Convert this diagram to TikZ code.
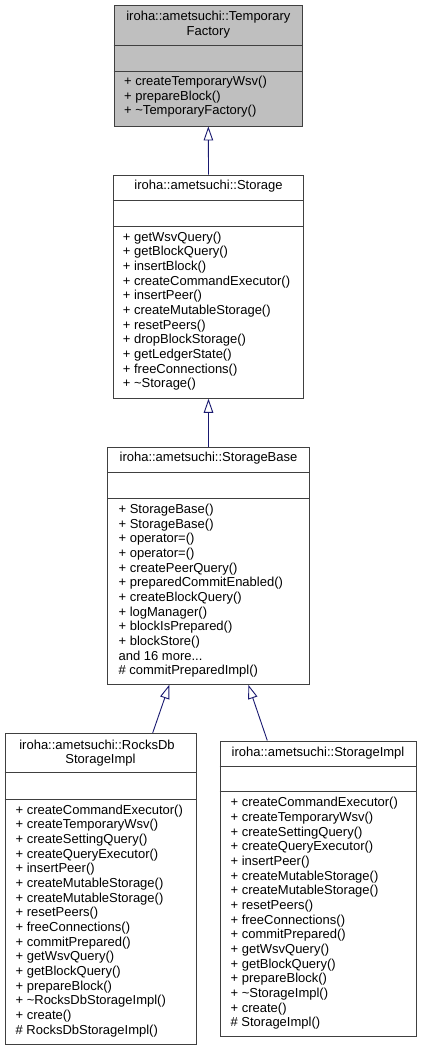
\documentclass[tikz,border=0pt]{standalone}
\usepackage{fontspec}
\setmainfont{Liberation Sans}
\usetikzlibrary{arrows.meta}
\definecolor{edgeblue}{RGB}{25,25,112}
\definecolor{hdrgray}{RGB}{191,191,191}
\definecolor{boxline}{RGB}{64,64,64}
\newcommand\threedots{...}
\newcommand\mlines[4]{\foreach \t [count=\i] in {#4}{\node[txt,anchor=base west] (#1-\i) at (#2,{#3+14.67*(\i-1)}) {\t};}}
\begin{document}
\begin{tikzpicture}[x=1pt,y=-1pt,
  box/.style={draw=boxline, line width=0.9pt, fill=white, inner sep=0pt},
  divider/.style={draw=boxline, line width=0.9pt},
  txt/.style={inner sep=0pt, font=\fontsize{13}{14.67}\selectfont},
  inh/.style={draw=edgeblue, line width=0.9pt, -{Triangle[open,length=14pt,width=9.5pt]}},
]
\useasboundingbox (0,0) rectangle (421,1051);
\fill[white] (0,0) rectangle (421,1051);

% TemporaryFactory
\node[box, fill=hdrgray, minimum width=188.7pt, minimum height=120.7pt] (tf) at (208.35,65.65) {};
\draw[divider] (tf.west |- 0,45.7) -- (tf.east |- 0,45.7);
\draw[divider] (tf.west |- 0,71) -- (tf.east |- 0,71);
\node[txt,anchor=base] (tf-t1) at (208.35,20.7) {iroha::ametsuchi::Temporary};
\node[txt,anchor=base] (tf-t2) at (208.35,35.7) {Factory};
\mlines{tf}{124}{85.6}{+ createTemporaryWsv(),+ prepareBlock(),+ \textasciitilde TemporaryFactory()}

% Storage
\node[box, minimum width=190.4pt, minimum height=223.3pt] (st) at (208.5,286.65) {};
\draw[divider] (st.west |- 0,200.7) -- (st.east |- 0,200.7);
\draw[divider] (st.west |- 0,226) -- (st.east |- 0,226);
\node[txt,anchor=base] (st-t1) at (208.5,189.4) {iroha::ametsuchi::Storage};
\mlines{st}{122.7}{241.1}{+ getWsvQuery(),+ getBlockQuery(),+ insertBlock(),+ createCommandExecutor(),+ insertPeer(),+ createMutableStorage(),+ resetPeers(),+ dropBlockStorage(),+ getLedgerState(),+ freeConnections(),+ \textasciitilde Storage()}

% StorageBase
\node[box, minimum width=201.6pt, minimum height=237pt] (sb) at (208.5,565.8) {};
\draw[divider] (sb.west |- 0,472.7) -- (sb.east |- 0,472.7);
\draw[divider] (sb.west |- 0,498) -- (sb.east |- 0,498);
\node[txt,anchor=base] (sb-t1) at (208.5,461.7) {iroha::ametsuchi::StorageBase};
\mlines{sb}{118.4}{513.4}{+ StorageBase(),+ StorageBase(),+ operator=(),+ operator=(),+ createPeerQuery(),+ preparedCommitEnabled(),+ createBlockQuery(),+ logManager(),+ blockIsPrepared(),+ blockStore(),and 16 more\threedots,\# commitPreparedImpl()}

% RocksDbStorageImpl
\node[box, minimum width=191pt, minimum height=311pt] (rd) at (100.5,888.8) {};
\draw[divider] (rd.west |- 0,772.7) -- (rd.east |- 0,772.7);
\draw[divider] (rd.west |- 0,799.3) -- (rd.east |- 0,799.3);
\node[txt,anchor=base] (rd-t1) at (97,749.1) {iroha::ametsuchi::RocksDb};
\node[txt,anchor=base] (rd-t2) at (100.5,763.7) {StorageImpl};
\mlines{rd}{15.4}{814.1}{+ createCommandExecutor(),+ createTemporaryWsv(),+ createSettingQuery(),+ createQueryExecutor(),+ insertPeer(),+ createMutableStorage(),+ createMutableStorage(),+ resetPeers(),+ freeConnections(),+ commitPrepared(),+ getWsvQuery(),+ getBlockQuery(),+ prepareBlock(),+ \textasciitilde RocksDbStorageImpl(),+ create(),\# RocksDbStorageImpl()}

% StorageImpl
\node[box, minimum width=196.3pt, minimum height=295.7pt] (si) at (318.15,888.85) {};
\draw[divider] (si.west |- 0,766.3) -- (si.east |- 0,766.3);
\draw[divider] (si.west |- 0,791.7) -- (si.east |- 0,791.7);
\node[txt,anchor=base] (si-t1) at (318,756.1) {iroha::ametsuchi::StorageImpl};
\mlines{si}{230.4}{806.7}{+ createCommandExecutor(),+ createTemporaryWsv(),+ createSettingQuery(),+ createQueryExecutor(),+ insertPeer(),+ createMutableStorage(),+ createMutableStorage(),+ resetPeers(),+ freeConnections(),+ commitPrepared(),+ getWsvQuery(),+ getBlockQuery(),+ prepareBlock(),+ \textasciitilde StorageImpl(),+ create(),\# StorageImpl()}

% inheritance edges
\draw[inh] (st.north) -- (tf.south);
\draw[inh] (sb.north) -- (st.south);
\draw[inh] ([xshift=52.2pt]rd.north) -- ([xshift=-39.2pt]sb.south);
\draw[inh] ([xshift=-50.85pt]si.north) -- ([xshift=39.8pt]sb.south);
\end{tikzpicture}
\end{document}
